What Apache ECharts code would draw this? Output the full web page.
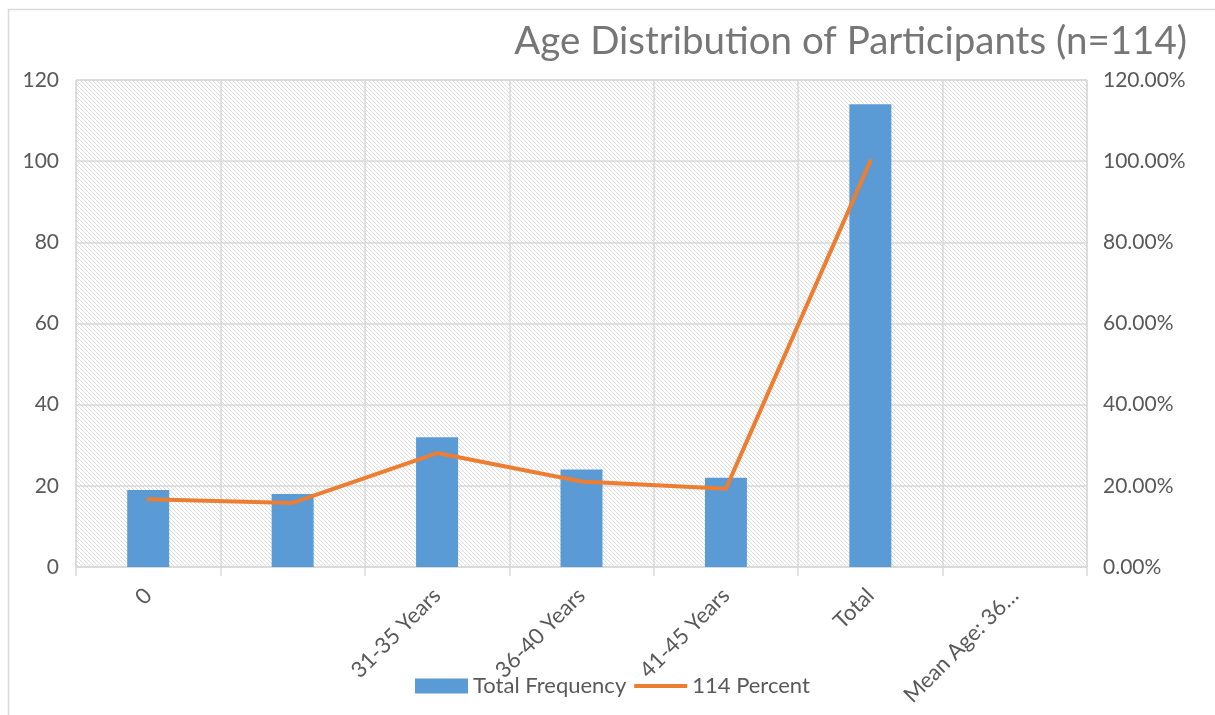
<!DOCTYPE html>
<html>
<head>
<meta charset="utf-8">
<script src="https://cdn.jsdelivr.net/npm/echarts@6/dist/echarts.min.js"></script>
<style>
html,body{margin:0;padding:0;background:#fff;}
#chart{width:1215px;height:715px;}
</style>
</head>
<body>
<div id="chart"></div>
<script>
const categories = ["0", "", "31-35 Years", "36-40 Years", "41-45 Years", "Total", "Mean Age: 36…"];
const frequency = [19, 18, 32, 24, 22, 114, null];
const percent = [0.1667, 0.1579, 0.2807, 0.2105, 0.1930, 1.0, null];
const leftTicks = { min: 0, max: 120, interval: 20 };
const rightTicks = { min: 0, max: 1.2, interval: 0.2 };

function hatch() {
  const c = document.createElement('canvas');
  c.width = 4; c.height = 4;
  const g = c.getContext('2d');
  g.fillStyle = '#ffffff';
  g.fillRect(0, 0, 4, 4);
  g.strokeStyle = '#d8d8d8';
  g.lineWidth = 0.9;
  g.beginPath();
  g.moveTo(-1, -1); g.lineTo(5, 5);
  g.moveTo(-1, 3); g.lineTo(1, 5);
  g.moveTo(3, -1); g.lineTo(5, 1);
  g.stroke();
  return c;
}

const FONT = 'Lato';
const chart = echarts.init(document.getElementById('chart'), null, { renderer: 'canvas' });
chart.setOption({
  animation: false,
  textStyle: { fontFamily: FONT },
  graphic: [{
    type: 'rect',
    shape: { x: 8.5, y: 9.5, width: 1300, height: 800 },
    style: { fill: 'none', stroke: '#d9d9d9', lineWidth: 1.5 },
    silent: true, z: -10
  }],
  title: {
    text: 'Age Distribution of Participants (n=114)',
    right: 23, top: 17,
    textStyle: { fontFamily: FONT, fontSize: 38.5, fontWeight: 'normal', color: '#767676' }
  },
  legend: {
    bottom: 18, left: 415, padding: 0,
    itemWidth: 53, itemHeight: 15, itemGap: 8,
    textStyle: { fontFamily: FONT, fontSize: 22, color: '#595959' },
    data: [
      { name: 'Total Frequency', icon: 'rect' },
      { name: '114 Percent', icon: 'path://M0,0 L0,0.01 M0,5.5 L56,5.5 L56,9.5 L0,9.5 Z M56,15 L56,15.01' }
    ]
  },
  grid: {
    left: 76, right: 128, top: 80, bottom: 148,
    show: true,
    backgroundColor: { image: hatch(), repeat: 'repeat' },
    borderColor: '#d9d9d9', borderWidth: 1
  },
  xAxis: {
    type: 'category',
    data: categories,
    axisLine: { show: true, lineStyle: { color: '#d9d9d9', width: 1.5 } },
    axisTick: { show: true, length: 9, lineStyle: { color: '#d9d9d9', width: 1.5 } },
    splitLine: { show: true, lineStyle: { color: '#d9d9d9', width: 1.5 } },
    axisLabel: {
      rotate: 45, interval: 0, margin: 25,
      fontFamily: FONT, fontSize: 22, color: '#595959'
    }
  },
  yAxis: [{
    type: 'value', min: leftTicks.min, max: leftTicks.max, interval: leftTicks.interval,
    axisLine: { show: false }, axisTick: { show: false },
    splitLine: { show: true, lineStyle: { color: '#d9d9d9', width: 1.5 } },
    axisLabel: { margin: 17, fontFamily: FONT, fontSize: 21, color: '#595959' }
  }, {
    type: 'value', min: rightTicks.min, max: rightTicks.max, interval: rightTicks.interval,
    axisLine: { show: false }, axisTick: { show: false },
    splitLine: { show: false },
    axisLabel: {
      margin: 16, fontFamily: FONT, fontSize: 21, color: '#595959',
      formatter: v => (v * 100).toFixed(2) + '%'
    }
  }],
  series: [{
    name: 'Total Frequency',
    type: 'bar',
    data: frequency,
    barWidth: 42,
    itemStyle: { color: '#5B9BD5' },
    z: 2
  }, {
    name: '114 Percent',
    type: 'line',
    yAxisIndex: 1,
    data: percent,
    symbol: 'none',
    lineStyle: { color: '#ED7D31', width: 4, cap: 'round', join: 'round' },
    itemStyle: { color: '#ED7D31' },
    z: 3
  }]
});
</script>
</body>
</html>
